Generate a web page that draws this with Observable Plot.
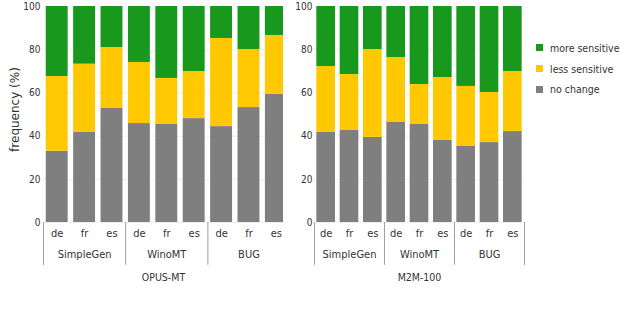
<!DOCTYPE html>
<html>
<head>
<meta charset="utf-8">
<script src="https://cdn.jsdelivr.net/npm/d3@7"></script>
<script src="https://cdn.jsdelivr.net/npm/@observablehq/plot@0.6"></script>
<style>
  html, body { margin: 0; padding: 0; background: #fff; }
  #chart { position: relative; width: 620px; height: 318px; overflow: hidden;
    font-family: "DejaVu Sans Condensed", "Open Sans", sans-serif; color: #333; }
  #chart > div.panel { position: absolute; top: 0; }
  #legend { position: absolute; left: 536px; top: 37.5px; font-size: 10.5px; white-space: nowrap; }
  #legend .item { display: flex; align-items: center; height: 20.7px; }
  #legend .sw { width: 7px; height: 7px; margin-right: 7px; }
</style>
</head>
<body>
<div id="chart"></div>
<script>
// ---- data ----
const models = ["OPUS-MT", "M2M-100"];
const groups = ["SimpleGen", "WinoMT", "BUG"];
const langs = ["de", "fr", "es"];
const categories = ["no change", "less sensitive", "more sensitive"];
const colors = ["#7f7f7f", "#ffc800", "#18981c"];
const yTicks = [0, 20, 40, 60, 80, 100];

// values (%) per bar, order: SimpleGen de/fr/es, WinoMT de/fr/es, BUG de/fr/es
const opusNoChange = [33.0, 41.7, 52.8, 45.8, 45.4, 48.1, 44.4, 53.2, 59.3];
const opusLess     = [34.6, 31.6, 28.2, 28.3, 21.3, 21.8, 40.8, 26.9, 27.3];
const opusMore     = [32.4, 26.7, 19.0, 25.9, 33.3, 30.1, 14.8, 19.9, 13.4];

const m2mNoChange  = [41.7, 42.6, 39.4, 46.3, 45.4, 38.0, 35.2, 37.0, 42.1];
const m2mLess      = [30.5, 25.9, 40.7, 30.1, 18.5, 29.1, 27.8, 23.2, 27.8];
const m2mMore      = [27.8, 31.5, 19.9, 23.6, 36.1, 32.9, 37.0, 39.8, 30.1];

const fontFamily = '"DejaVu Sans Condensed", "Open Sans", sans-serif';

function stackRows(series) {
  const rows = [];
  const n = series[0].length;
  for (let i = 0; i < n; i++) {
    let y0 = 0;
    series.forEach((s, c) => {
      rows.push({i, cat: categories[c], y1: y0, y2: y0 + s[i]});
      y0 += s[i];
    });
  }
  return rows;
}

const barKeys = groups.flatMap((g, gi) => langs.map((l, li) => ({i: gi * langs.length + li, group: g, lang: l})));
const groupCenters = groups.map((g, gi) => ({group: g, i: gi * langs.length + (langs.length - 1) / 2}));
const separators = d3.range(groups.length + 1).map(k => k * langs.length - 0.5);

function panel(model, series, cfg) {
  const rows = stackRows(series);
  const marks = [
    Plot.gridY(yTicks.slice(0, -1), {stroke: "#eeeef4", strokeOpacity: 1}),
    Plot.rectY(rows, {x1: d => d.i - 0.4, x2: d => d.i + 0.4, y1: "y1", y2: "y2", fill: "cat", clip: true}),
    Plot.axisY({ticks: yTicks, tickSize: 0, tickPadding: cfg.tickPadding, fontSize: 10, label: null}),
    Plot.ruleX(separators, {y1: 0, y2: -19.8, stroke: "#a0a0a0"}),
    Plot.text(barKeys, {x: "i", y: 0, dy: 11, text: "lang", fontSize: 11}),
    Plot.text(groupCenters, {x: "i", y: 0, dy: 32, text: "group", fontSize: 11}),
    Plot.text([model], {frameAnchor: "bottom", dy: 58, text: d => d, fontSize: 10.5})
  ];
  if (cfg.yLabel) {
    marks.push(Plot.text([cfg.yLabel], {frameAnchor: "left", textAnchor: "middle", dx: -28, dy: -5,
      rotate: -90, text: d => d, fontSize: 12, fontFamily: '"DejaVu Sans", sans-serif'}));
  }
  return Plot.plot({
    width: cfg.width, height: 318,
    marginTop: 6, marginBottom: 96, marginLeft: cfg.marginLeft, marginRight: cfg.marginRight,
    x: {type: "linear", domain: [-0.5, cfg.xMax], axis: null},
    y: {domain: [0, 100], axis: null},
    color: {domain: categories, range: colors},
    style: {overflow: "hidden", fontFamily, fontSize: "11px", color: "#333", background: "transparent"},
    marks
  });
}

const chart = document.getElementById("chart");

const left = document.createElement("div");
left.className = "panel"; left.style.left = "0px";
left.appendChild(panel(models[0], [opusNoChange, opusLess, opusMore],
  {width: 283, marginLeft: 43, marginRight: 0, xMax: 8.26, tickPadding: 3, yLabel: "frequency (%)"}));
chart.appendChild(left);

const right = document.createElement("div");
right.className = "panel"; right.style.left = "283px";
right.appendChild(panel(models[1], [m2mNoChange, m2mLess, m2mMore],
  {width: 337, marginLeft: 31, marginRight: 96, xMax: 8.5, tickPadding: 2, yLabel: null}));
chart.appendChild(right);

// legend
const legend = document.createElement("div");
legend.id = "legend";
categories.map((c, k) => ({c, col: colors[k]})).reverse().forEach(({c, col}) => {
  const item = document.createElement("div");
  item.className = "item";
  const sw = document.createElement("div");
  sw.className = "sw"; sw.style.background = col;
  const t = document.createElement("span");
  t.textContent = c;
  item.appendChild(sw); item.appendChild(t);
  legend.appendChild(item);
});
chart.appendChild(legend);
</script>
</body>
</html>
